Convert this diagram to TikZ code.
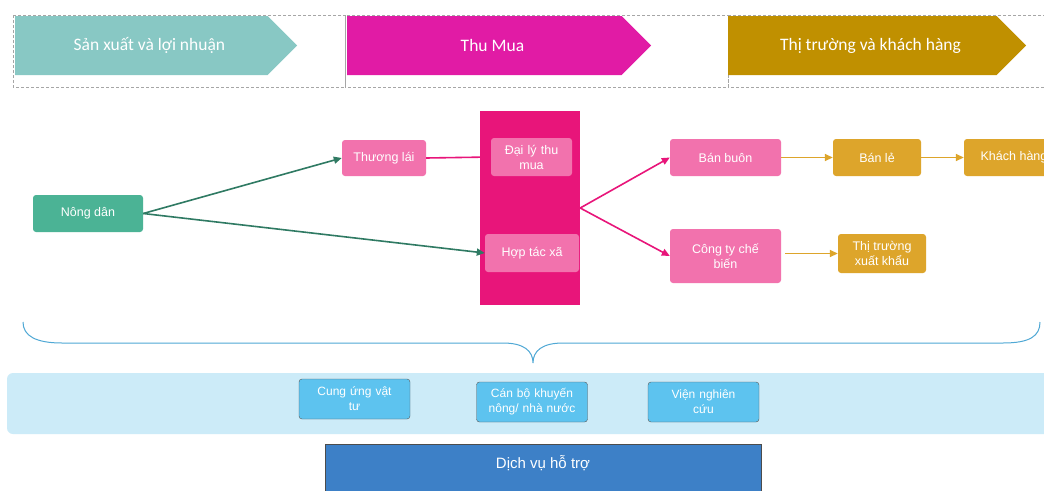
\documentclass[tikz,border=0pt]{standalone}
\usepackage{fontspec}
\setmainfont{Liberation Sans}
\newfontfamily\hdfont{Carlito}
\usetikzlibrary{arrows.meta,shapes.symbols}

\definecolor{hdteal}{HTML}{88C8C4}
\definecolor{hdmag}{HTML}{E11BA5}
\definecolor{hdgold}{HTML}{C09000}
\definecolor{nodegreen}{HTML}{4BB395}
\definecolor{arrgreen}{HTML}{2F7A63}
\definecolor{nodepink}{HTML}{F272AD}
\definecolor{deeppink}{HTML}{E8157A}
\definecolor{nodegold}{HTML}{DDA52B}
\definecolor{bracecol}{HTML}{4FA8D5}
\definecolor{bandcol}{HTML}{CCEBF8}
\definecolor{supcol}{HTML}{5DC3EF}
\definecolor{dvcol}{HTML}{3D80C7}

\newcommand{\hdpad}{\hspace*{16pt}}

\tikzset{
  header/.style={shape=signal, signal to=east, signal pointer angle=90,
    minimum height=59pt, inner sep=0pt, text=white, anchor=west,
    font=\hdfont\fontsize{17.5}{20}\selectfont},
  box/.style={rounded corners=3pt, minimum height=37pt, inner sep=2pt,
    text=white, align=center, font=\fontsize{12.5}{15}\selectfont},
  supbox/.style={rounded corners=3pt, draw=black!65, fill=supcol,
    minimum width=111pt, minimum height=40pt, text width=100pt, align=center,
    text=white, font=\fontsize{12}{15}\selectfont},
  link/.style={->, line width=1.6pt}
}

\begin{document}
\begin{tikzpicture}[x=1pt, y=-1pt, >={Triangle[length=8pt,width=7pt]}]

    \clip (0,0) rectangle (1044,490);
    \fill [white] (0,0) rectangle (1044,490);

    % column frames
    \draw [densely dashed, black!35, thin] (13,15) rectangle (345,87);
    \draw [densely dashed, black!35, thin] (345,15) rectangle (728,87);
    \draw [densely dashed, black!35, thin] (728,15) rectangle (1050,87);

    \node (h1) [header, fill=hdteal, minimum width=282pt] at (15,45.5) {\hdpad Sản xuất và lợi nhuận};
    \node (h2) [header, fill=hdmag, minimum width=304pt] at (347,45.5) {\hdpad Thu Mua};
    \node (h3) [header, fill=hdgold, minimum width=298pt] at (728,45.5) {\hdpad Thị trường và khách hàng};

    % chain
    \node (khoi) [fill=deeppink, minimum width=100pt, minimum height=194pt] at (530,208) {};
    \node (nong) [box, fill=nodegreen, minimum width=110pt] at (88,213.5) {Nông dân};
    \node (thuong) [box, fill=nodepink, minimum width=84pt, minimum height=36pt] at (384,158) {Thương lái};
    \node (daily) [box, fill=nodepink, minimum width=81pt, minimum height=38pt, text width=70pt] at (531.5,157) {Đại lý thu\\mua};
    \node (htx) [box, fill=nodepink, minimum width=94pt, minimum height=38pt] at (532,253) {Hợp tác xã};
    \node (banbuon) [box, fill=nodepink, minimum width=111pt] at (725.5,157.5) {Bán buôn};
    \node (congty) [box, fill=nodepink, minimum width=111pt, minimum height=54pt] at (725.5,256) {Công ty chế\\biến};
    \node (banle) [box, fill=nodegold, minimum width=88pt] at (877,157.5) {Bán lẻ};
    \node (khach) [box, fill=nodegold, minimum width=100pt] at (1014,157.5) {Khách hàng};
    \node (xuatkhau) [box, fill=nodegold, minimum width=88pt, minimum height=39pt] at (882,253.5) {Thị trường\\xuất khẩu};

    \draw [link, arrgreen] (nong.east) to (thuong.west);
    \draw [link, arrgreen] (nong.east) to (htx.west);
    \draw [link, deeppink] (thuong.east) to (daily.west);
    \draw [link, deeppink] (khoi.east) to (banbuon.west);
    \draw [link, deeppink] (khoi.east) to (congty.west);
    \draw [link, nodegold] (banbuon.east) to (banle.west);
    \draw [link, nodegold] (banle.east) to (khach.west);
    \draw [link, nodegold] ([xshift=4pt]congty.east |- xuatkhau.west) to (xuatkhau.west);

    % brace
    \draw [bracecol, line width=1pt] (23,322) .. controls (23,336) and (36,343) .. (62,343)
      -- (503,343) .. controls (524,343) and (533,351) .. (533,363)
      .. controls (533,351) and (542,343) .. (563,343) -- (1003,343)
      .. controls (1030,343) and (1040,336) .. (1040,322);

    % support services
    \fill [bandcol, rounded corners=6pt] (7,373) rectangle (1060,434);
    \node (cung) [supbox] at (354.5,399) {Cung ứng vật\\tư};
    \node (canbo) [supbox] at (532,402) {Cán bộ khuyến\\nông/ nhà nước};
    \node (vien) [supbox] at (703.5,402) {Viện nghiên\\cứu};
    \filldraw [fill=dvcol, draw=black!70] (325,444) rectangle (761,500);
    \node (dichvu) [text=white, font=\fontsize{15}{17}\selectfont] at (543,463) {Dịch vụ hỗ trợ};

\end{tikzpicture}
\end{document}
